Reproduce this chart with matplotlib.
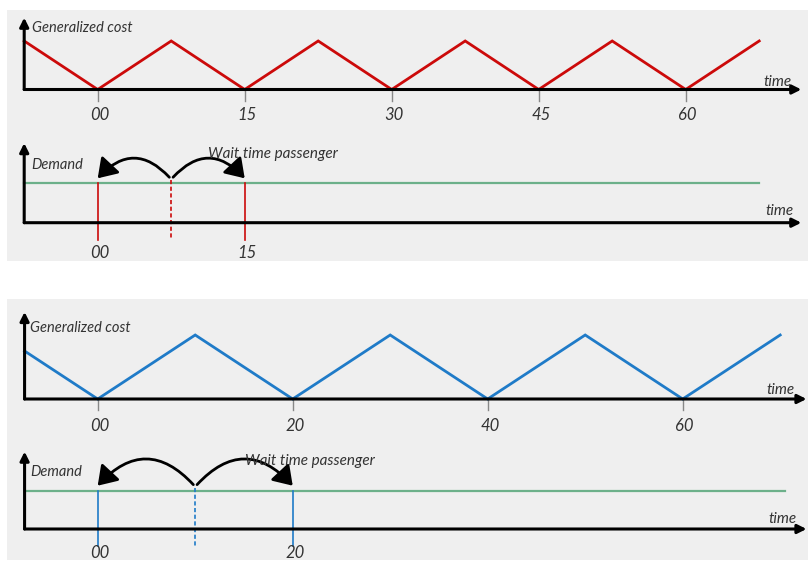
import matplotlib
matplotlib.use("Agg")
import matplotlib.pyplot as plt
from matplotlib.patches import Rectangle, FancyArrowPatch

# ---------------- data ----------------
# Scenario A: 15-minute headway
times_a = [-7.5, 0, 7.5, 15, 22.5, 30, 37.5, 45, 52.5, 60, 67.5]
cost_a = [7.5, 0, 7.5, 0, 7.5, 0, 7.5, 0, 7.5, 0, 7.5]
ticks_a = [0, 15, 30, 45, 60]
tick_labels_a = ["00", "15", "30", "45", "60"]
departures_a = [0, 15]
dep_labels_a = ["00", "15"]
passenger_a = 7.5
demand_a = 1.0

# Scenario B: 20-minute headway
times_b = [-7.5, 0, 10, 20, 30, 40, 50, 60, 70]
cost_b = [7.5, 0, 10, 0, 10, 0, 10, 0, 10]
ticks_b = [0, 20, 40, 60]
tick_labels_b = ["00", "20", "40", "60"]
departures_b = [0, 20]
dep_labels_b = ["00", "20"]
passenger_b = 10
demand_b = 1.0

# ---------------- style ----------------
W, H = 808, 561
BG = "#efefef"
RED = "#cc0a0a"
BLUE = "#1f7bc8"
GREEN = "#6cb08a"
TXT = "#333333"
FONT = "Lato"

plt.rcParams["font.family"] = [FONT, "DejaVu Sans"]

fig = plt.figure(figsize=(W / 100, H / 100), dpi=100)
fig.patch.set_facecolor("white")


def fx(px):
    return px / W


def fy(py):
    return 1 - py / H


# gray panels
for top, bot in [(10, 261), (299, 560)]:
    fig.patches.append(Rectangle((fx(7), fy(bot)), fx(808) - fx(7), fy(top) - fy(bot),
                                 transform=fig.transFigure, facecolor=BG,
                                 edgecolor="none", zorder=-10))


def make_axes(box, x0, sx, y0, sy):
    l, t, r, b = box
    ax = fig.add_axes([fx(l), fy(b), fx(r) - fx(l), fy(t) - fy(b)])
    ax.set_xlim((l - x0) / sx, (r - x0) / sx)
    ax.set_ylim((y0 - b) / sy, (y0 - t) / sy)
    ax.axis("off")
    ax.patch.set_alpha(0)
    return ax


def axis_arrows(ax, xstart, xtip, ytip):
    kw = dict(arrowstyle="-|>", color="black", lw=2.2, mutation_scale=13,
              shrinkA=0, shrinkB=0)
    ax.annotate("", xy=(xtip, 0), xytext=(xstart, 0), arrowprops=kw,
                annotation_clip=False)
    ax.annotate("", xy=(xstart, ytip), xytext=(xstart, 0), arrowprops=kw,
                annotation_clip=False)


def txt(px, py, s, size, ha="left", va="center"):
    fig.text(fx(px), fy(py + 2), s, fontsize=size, style="italic", color=TXT,
             ha=ha, va=va, family=[FONT, "DejaVu Sans"])


def cost_chart(box, x0, sx, y0, sy, times, cost, ticks, labels, color,
               xtip, ytip, label_y):
    ax = make_axes(box, x0, sx, y0, sy)
    ax.plot(times, cost, color=color, lw=2.0, solid_joinstyle="miter",
            clip_on=False, zorder=3)
    axis_arrows(ax, times[0], xtip, ytip)
    for t in ticks:
        ax.plot([t, t], [0, -11 / sy], color="#888888", lw=1.0, clip_on=False)
    for t, lab in zip(ticks, labels):
        px = x0 + t * sx
        txt(px + 2, label_y, lab, 12, ha="center")
    return ax


def demand_chart(box, x0, sx, y0, sy, xstart, xend, demand, deps, labels,
                 passenger, color, xtip, ytip, label_y, rad):
    ax = make_axes(box, x0, sx, y0, sy)
    ax.plot([xstart, xend], [demand, demand], color=GREEN, lw=1.6, zorder=2)
    low = -17 / sy
    for d in deps:
        ax.plot([d, d], [demand, low], color=color, lw=1.2, zorder=3)
    ax.plot([passenger, passenger], [demand + 3 / sy, low], color=color, lw=1.2,
            ls=(0, (2.5, 1.5)), zorder=3)
    axis_arrows(ax, xstart, xtip, ytip)
    for d, lab in zip(deps, labels):
        txt(x0 + d * sx + 2, label_y, lab, 12, ha="center")
    start = (passenger, demand + 4 / sy)
    for end, r in [((deps[0], demand + 5 / sy), rad), ((deps[1], demand + 5 / sy), -rad)]:
        arr = FancyArrowPatch(start, end, connectionstyle=f"arc3,rad={r}",
                              arrowstyle="-|>,head_length=0.75,head_width=0.5",
                              mutation_scale=15, lw=2.0, color="black",
                              shrinkA=2, shrinkB=0, zorder=4)
        ax.add_patch(arr)
    return ax


# ---- top panel ----
sxA, x0A = 9.8, 97.7
cost_chart((0, 10, 808, 135), x0A, sxA, 89.5, 6.47, times_a, cost_a, ticks_a,
           tick_labels_a, RED, 71.8, 11.1, 113)
txt(32, 26.5, "Generalized cost", 10.5)
txt(763, 80, "time", 11)

demand_chart((0, 135, 808, 261), x0A, sxA, 222.7, 39.4, times_a[0], times_a[-1],
             demand_a, departures_a, dep_labels_a, passenger_a, RED, 71.8, 2.02,
             250.5, 0.55)
txt(31, 163.5, "Demand", 10.5)
txt(208, 151.5, "Wait time passenger", 11)
txt(765, 209, "time", 11)

# ---- bottom panel ----
sxB, x0B = 9.75, 97.7
cost_chart((0, 299, 808, 440), x0B, sxB, 399, 6.4, times_b, cost_b, ticks_b,
           tick_labels_b, BLUE, 72.7, 13.6, 424)
txt(30, 326.5, "Generalized cost", 10.5)
txt(766, 388, "time", 11)

demand_chart((0, 440, 808, 560), x0B, sxB, 529, 38.3, times_b[0], 70.5,
             demand_b, departures_b, dep_labels_b, passenger_b, BLUE, 72.7, 2.02,
             550.5, 0.55)
txt(30, 470.5, "Demand", 10.5)
txt(245, 459, "Wait time passenger", 11)
txt(768, 517, "time", 11)

fig.savefig("out.png", dpi=100)
